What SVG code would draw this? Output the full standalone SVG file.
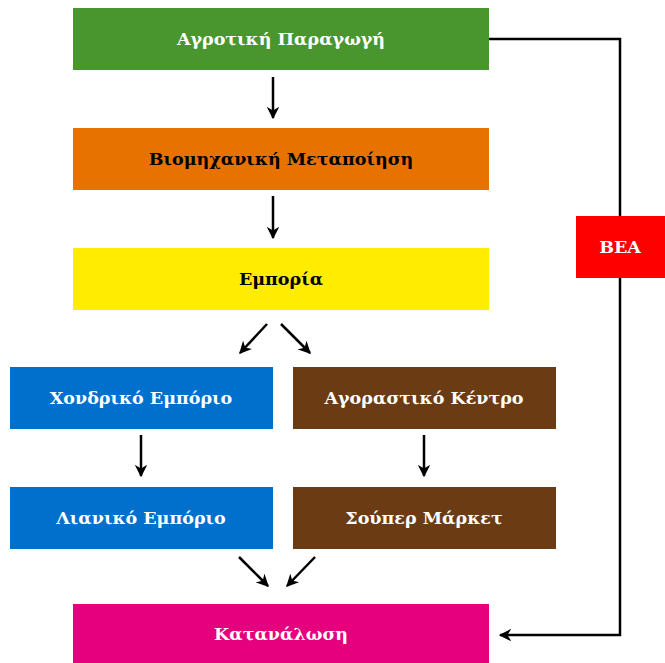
<svg xmlns="http://www.w3.org/2000/svg" width="665" height="663" viewBox="0 0 665 663">
<style>
text{font-family:"DejaVu Serif","Liberation Serif",serif;font-weight:bold;font-size:17.5px;text-anchor:middle;dominant-baseline:central;fill:#fff}
.ln{stroke:#000;stroke-width:2.5;fill:none}
</style>
<defs>
<marker id="ah" viewBox="0 0 10 10" refX="9" refY="5" markerWidth="5" markerHeight="5" orient="auto" markerUnits="strokeWidth">
<path d="M0,0 L10,5 L0,10 L3,5 z" fill="#000"/>
</marker>
</defs>
<rect width="665" height="663" fill="#fff"/>
<g id="connectors">
<line class="ln" x1="273" y1="77" x2="273" y2="118" marker-end="url(#ah)"/>
<line class="ln" x1="273" y1="196" x2="273" y2="238" marker-end="url(#ah)"/>
<line class="ln" x1="267" y1="324" x2="240" y2="353" marker-end="url(#ah)"/>
<line class="ln" x1="281" y1="324" x2="310" y2="353" marker-end="url(#ah)"/>
<line class="ln" x1="141" y1="435" x2="141" y2="476" marker-end="url(#ah)"/>
<line class="ln" x1="424" y1="435" x2="424" y2="476" marker-end="url(#ah)"/>
<line class="ln" x1="239" y1="557" x2="268" y2="586" marker-end="url(#ah)"/>
<line class="ln" x1="315" y1="557" x2="287" y2="586" marker-end="url(#ah)"/>
<polyline class="ln" points="489,39 620,39 620,635 500,635" marker-end="url(#ah)"/>
</g>
<g id="n1"><rect x="73" y="8" width="416" height="62" fill="#4a962e"/><text x="281" y="39">Αγροτική Παραγωγή</text></g>
<g id="n2"><rect x="73" y="128" width="416" height="62" fill="#e87200"/><text x="281" y="159" style="fill:#000">Βιομηχανική Μεταποίηση</text></g>
<g id="n3"><rect x="73" y="248" width="416" height="62" fill="#ffec00"/><text x="281" y="279" style="fill:#000">Εμπορία</text></g>
<g id="n4"><rect x="10" y="367" width="263" height="62" fill="#0070cd"/><text x="141" y="398">Χονδρικό Εμπόριο</text></g>
<g id="n5"><rect x="293" y="367" width="263" height="62" fill="#6b3c13"/><text x="424" y="398">Αγοραστικό Κέντρο</text></g>
<g id="n6"><rect x="10" y="487" width="263" height="62" fill="#0070cd"/><text x="141" y="518">Λιανικό Εμπόριο</text></g>
<g id="n7"><rect x="293" y="487" width="263" height="62" fill="#6b3c13"/><text x="424" y="518">Σούπερ Μάρκετ</text></g>
<g id="n8"><rect x="73" y="604" width="416" height="59" fill="#e6007e"/><text x="281" y="634">Κατανάλωση</text></g>
<g id="bea"><rect x="576" y="216" width="89" height="62" fill="#ff0000"/><text x="620" y="247">BEA</text></g>
</svg>
